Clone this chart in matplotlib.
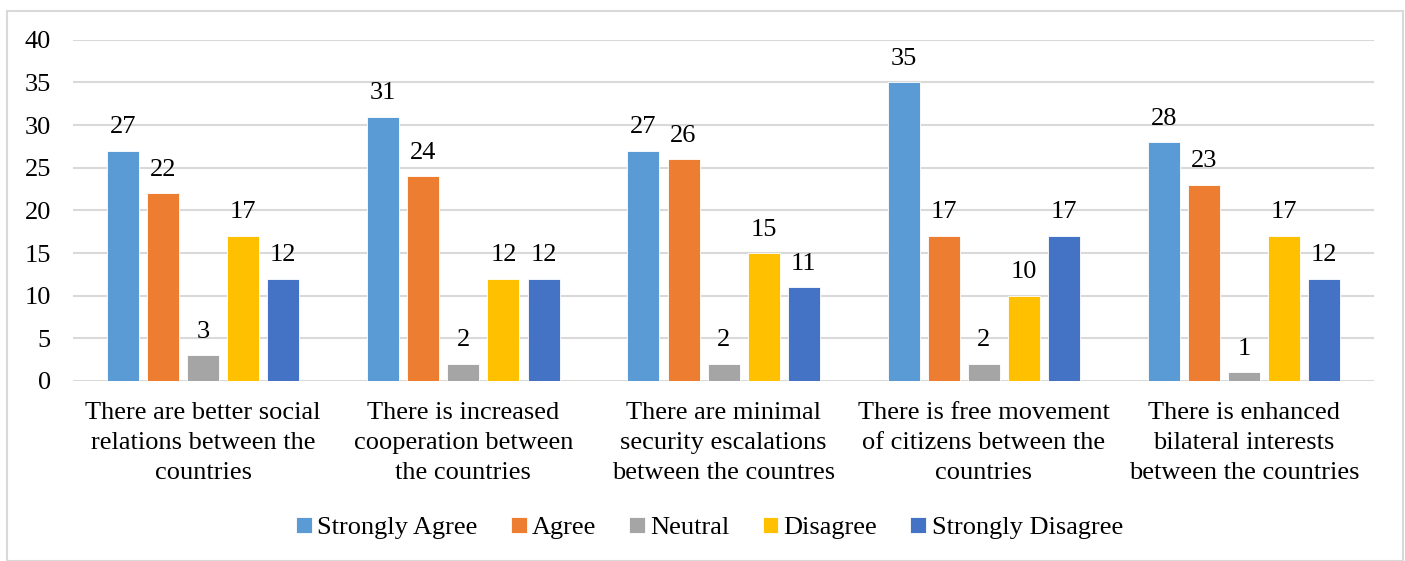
import numpy as np
import matplotlib.pyplot as plt
from matplotlib.patches import Rectangle

# Chart data
categories = ['There are better social\nrelations between the\ncountries',
              'There is increased\ncooperation between\nthe countries',
              'There are minimal\nsecurity escalations\nbetween the countres',
              'There is free movement\nof citizens between the\ncountries',
              'There is enhanced\nbilateral interests\nbetween the countries']
series = ['Strongly Agree', 'Agree', 'Neutral', 'Disagree', 'Strongly Disagree']
strongly_agree = [27, 31, 27, 35, 28]
agree = [22, 24, 26, 17, 23]
neutral = [3, 2, 2, 2, 1]
disagree = [17, 12, 15, 10, 17]
strongly_disagree = [12, 12, 11, 17, 12]
values = [strongly_agree, agree, neutral, disagree, strongly_disagree]
colors = ['#5B9BD5', '#ED7D31', '#A5A5A5', '#FFC000', '#4472C4']

plt.rcParams['font.family'] = ['Liberation Serif', 'DejaVu Serif']
fs = 19

fig = plt.figure(figsize=(14.05, 5.61), dpi=100)
ax = fig.add_axes([0.052, 0.321, 0.926, 0.608])

x = np.arange(len(categories))
step = 0.154
width = 0.123
for i, (name, vals, c) in enumerate(zip(series, values, colors)):
    pos = x + (i - 2) * step
    bars = ax.bar(pos, vals, width, color=c, label=name,
                  edgecolor='white', linewidth=0.6, zorder=3)
    ax.bar_label(bars, padding=9, fontsize=fs)

ax.set_xlim(-0.5, len(categories) - 0.5)
ax.set_ylim(0, 40)
ax.set_yticks(range(0, 41, 5))
ax.set_xticks(x)
ax.set_xticklabels(categories, fontsize=fs, linespacing=1.48)
ax.tick_params(axis='y', labelsize=fs, length=0, pad=16)
ax.tick_params(axis='x', length=0, pad=15)
ax.grid(axis='y', color='#D9D9D9', linewidth=1.5, zorder=0)
for s in ax.spines.values():
    s.set_visible(False)

ax.legend(loc='center', bbox_to_anchor=(0.505, 0.0589), bbox_transform=fig.transFigure,
          ncol=5, frameon=False, fontsize=fs, handlelength=0.6, handleheight=0.6,
          handletextpad=0.2, columnspacing=1.25)

# outer chart border
fig.patches.append(Rectangle((7 / 1405, 0.0), 1396 / 1405, 1 - 11 / 561,
                             transform=fig.transFigure, fill=False,
                             edgecolor='#D9D9D9', linewidth=1.5))

fig.savefig('out.png', dpi=100)
